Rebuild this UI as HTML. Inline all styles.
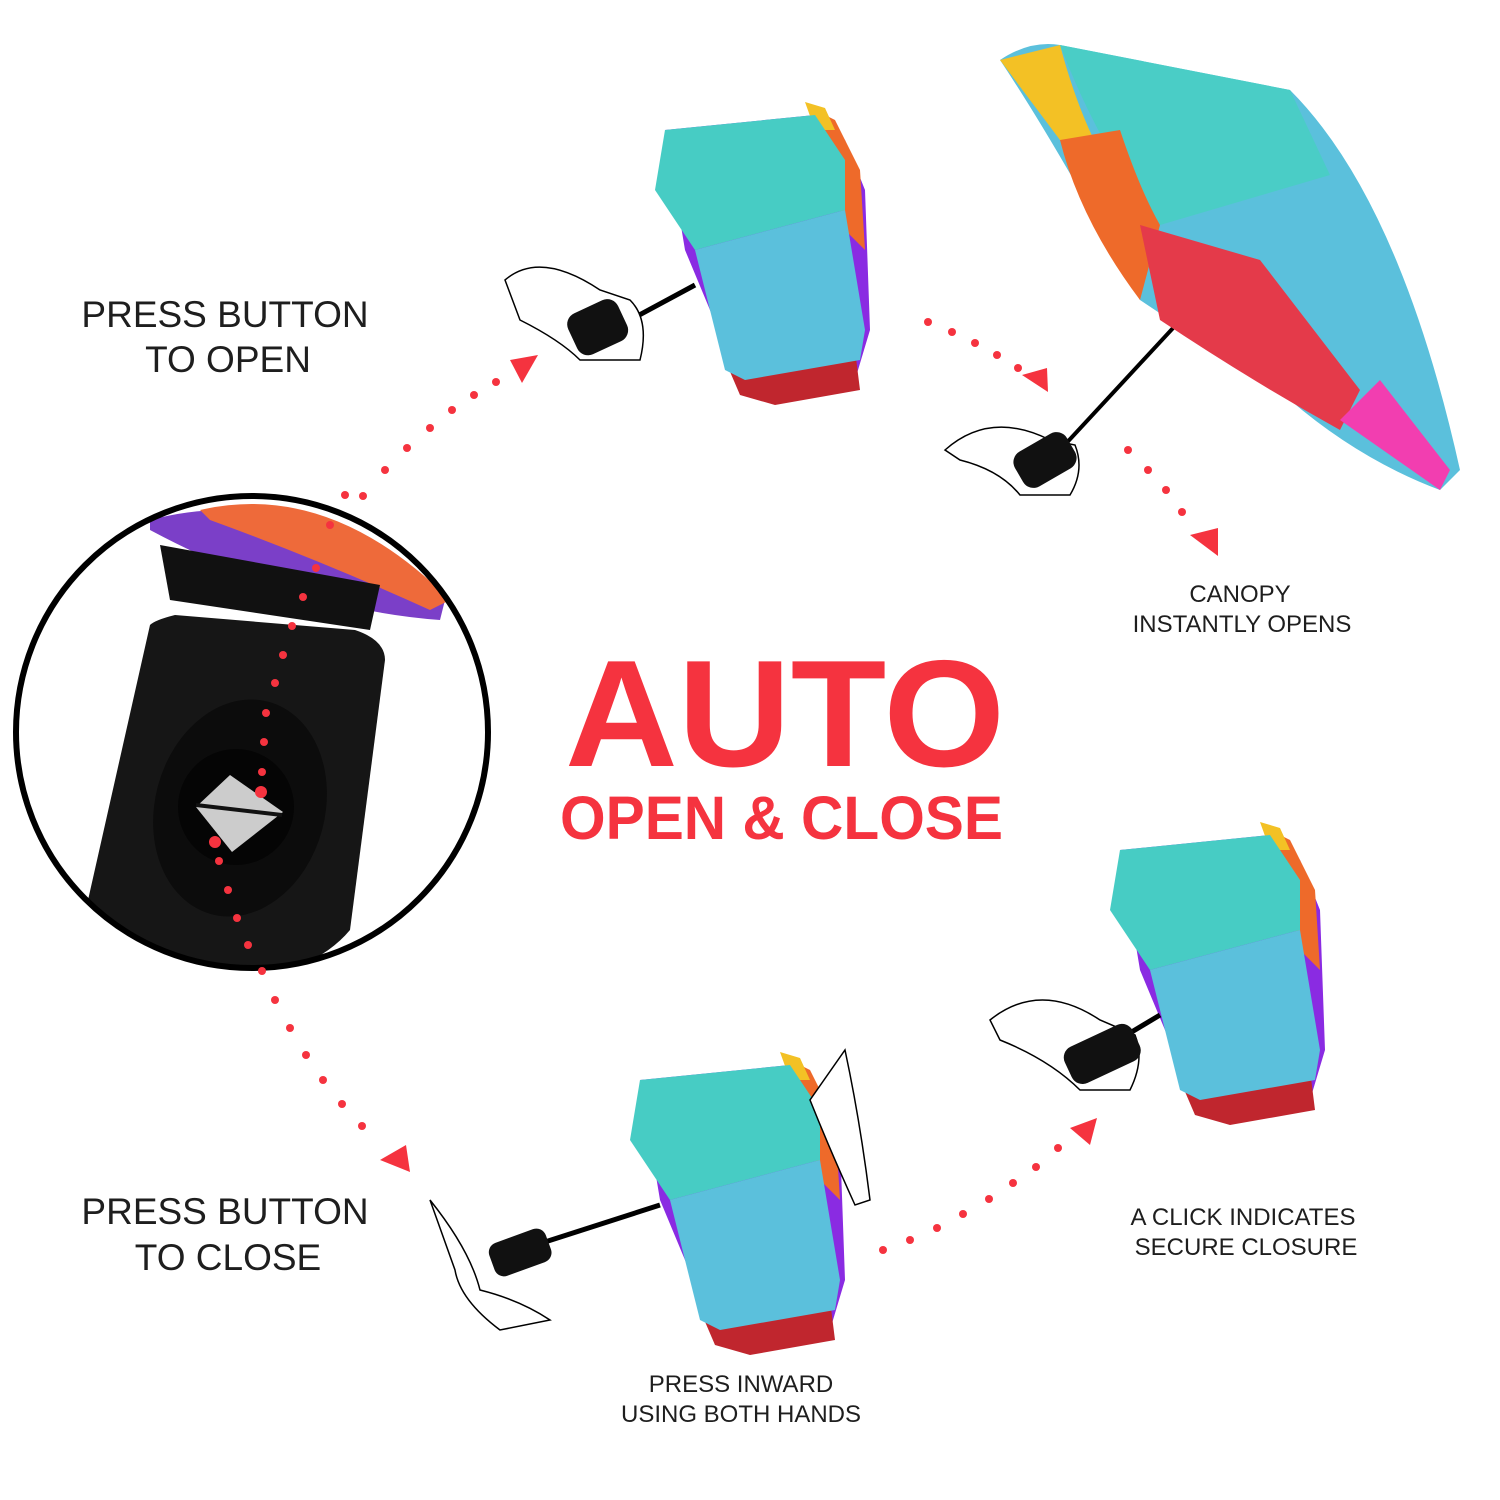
<!DOCTYPE html>
<html><head><meta charset="utf-8"><style>
html,body{margin:0;padding:0;background:#fff;}
svg{display:block}
.t{font-family:"Liberation Sans",sans-serif;fill:#1e1e1e;text-anchor:middle}
.r{font-family:"Liberation Sans",sans-serif;fill:#f5333f;font-weight:bold;}
</style></head><body>
<svg width="1500" height="1500" viewBox="0 0 1500 1500" xmlns="http://www.w3.org/2000/svg">
<defs>
<clipPath id="cc"><circle cx="252" cy="732" r="234"/></clipPath>
<g id="fold">
  <path d="M0 0 L150 -15 L180 10 L200 60 L205 200 L190 250 L110 270 L95 250 L70 240 L20 120 Z" fill="#8a2be2"/>
  <path d="M60 230 L190 220 L195 260 L110 275 L75 265 Z" fill="#c0262e"/>
  <path d="M150 -20 L170 -10 L195 40 L200 120 L180 100 Z" fill="#ee6a2a"/>
  <path d="M140 -28 L160 -22 L170 0 L150 0Z" fill="#f3c125"/>
  <path d="M-10 60 L0 0 L150 -15 L180 30 L180 80 L30 120 Z" fill="#47ccc4"/>
  <path d="M30 120 L180 80 L200 200 L195 230 L80 250 L60 240 Z" fill="#5bc0dc"/>
</g>
</defs>

<!-- texts -->
<text class="t" x="225" y="327" font-size="37">PRESS BUTTON</text>
<text class="t" x="228" y="372" font-size="37">TO OPEN</text>
<text class="t" x="225" y="1224" font-size="37">PRESS BUTTON</text>
<text class="t" x="228" y="1270" font-size="37">TO CLOSE</text>
<text class="t" x="1240" y="602" font-size="24">CANOPY</text>
<text class="t" x="1242" y="632" font-size="24">INSTANTLY OPENS</text>
<text class="t" x="1243" y="1225" font-size="24">A CLICK INDICATES</text>
<text class="t" x="1246" y="1255" font-size="24">SECURE CLOSURE</text>
<text class="t" x="741" y="1392" font-size="24">PRESS INWARD</text>
<text class="t" x="741" y="1422" font-size="24">USING BOTH HANDS</text>
<text class="r" x="565" y="766" font-size="152" textLength="440" lengthAdjust="spacingAndGlyphs">AUTO</text>
<text class="r" x="560" y="839" font-size="61" textLength="443" lengthAdjust="spacingAndGlyphs">OPEN &amp; CLOSE</text>

<!-- circle -->
<g clip-path="url(#cc)">
  <path d="M150 520 Q300 480 445 600 L440 620 Q300 610 150 530Z" fill="#7b3fc8"/>
  <path d="M200 510 Q330 480 450 600 L430 610 Q320 560 210 520Z" fill="#ee6a3a"/>
  <path d="M160 545 L380 585 L370 630 L170 600 Z" fill="#111"/>
  <path d="M150 625 Q155 620 175 615 L355 630 Q385 640 385 660 L350 930 Q300 990 150 990 L70 980 Z" fill="#161616"/>
  <ellipse cx="240" cy="808" rx="85" ry="110" fill="#0c0c0c" transform="rotate(15 240 808)"/>
  <circle cx="236" cy="807" r="58" fill="#050505"/>
  <path d="M196 807 L230 775 L283 812 L232 852 Z" fill="#ccc"/>
  <line x1="196" y1="805" x2="282" y2="815" stroke="#111" stroke-width="4"/>
</g>
<circle cx="252" cy="732" r="236" fill="none" stroke="#000" stroke-width="6"/>

<!-- folded umbrellas -->
<use href="#fold" transform="translate(665,130)"/>
<use href="#fold" transform="translate(1120,850)"/>
<use href="#fold" transform="translate(640,1080)"/>
<!-- handles & hands -->
<g stroke="#000" stroke-width="2" fill="none">
  <line x1="630" y1="320" x2="695" y2="285" stroke-width="5"/>
  <path d="M505 280 Q540 250 600 290 L630 300 Q650 320 640 360 L580 360 Q560 340 520 320Z" fill="#fff" stroke-width="1.5"/>
  <line x1="1060" y1="450" x2="1250" y2="245" stroke-width="4"/>
  <path d="M945 450 Q990 410 1050 440 L1075 445 Q1085 470 1070 495 L1020 495 Q1000 470 960 460Z" fill="#fff" stroke-width="1.5"/>
  <line x1="1110" y1="1045" x2="1160" y2="1015" stroke-width="5"/>
  <path d="M990 1020 Q1040 980 1100 1020 L1135 1035 Q1145 1060 1130 1090 L1080 1090 Q1050 1060 1000 1040Z" fill="#fff" stroke-width="1.5"/>
  <line x1="520" y1="1250" x2="660" y2="1205" stroke-width="5"/>
  <path d="M430 1200 Q470 1250 480 1290 Q520 1300 550 1320 L500 1330 Q460 1300 455 1270Z" fill="#fff" stroke-width="1.5"/>
  <path d="M845 1050 Q860 1120 870 1200 L855 1205 Q830 1150 810 1100Z" fill="#fff" stroke-width="1.5"/>
</g>
<rect x="570" y="305" width="55" height="45" rx="12" fill="#111" transform="rotate(-25 597 327)"/>
<rect x="1015" y="440" width="60" height="40" rx="12" fill="#111" transform="rotate(-30 1045 460)"/>
<rect x="1065" y="1035" width="75" height="40" rx="12" fill="#111" transform="rotate(-25 1100 1055)"/>
<rect x="490" y="1235" width="60" height="35" rx="10" fill="#111" transform="rotate(-20 520 1252)"/>

<!-- open umbrella -->
<path d="M1000 60 Q1030 40 1060 45 L1290 90 Q1400 200 1460 470 L1440 490 Q1360 460 1290 400 Q1200 340 1140 300 Q1060 150 1000 60Z" fill="#5bc0dc"/>
<path d="M1060 45 L1290 90 L1330 175 L1160 225 Q1100 150 1060 45Z" fill="#4acdc6"/>
<path d="M1000 60 L1060 45 Q1080 120 1110 170 L1060 140Z" fill="#f3c125"/>
<path d="M1060 140 L1120 130 Q1140 190 1160 225 L1140 300 Q1080 220 1060 140Z" fill="#ee6a2a"/>
<path d="M1140 225 L1260 260 L1360 390 L1340 430 Q1250 380 1160 320Z" fill="#e43a4a"/>
<path d="M1340 420 L1380 380 L1450 470 L1440 490Z" fill="#f23eb0"/>

<!-- dots -->
<g fill="#f5333f">
  <circle cx="363" cy="496" r="4"/><circle cx="385" cy="470" r="4"/><circle cx="407" cy="448" r="4"/><circle cx="430" cy="428" r="4"/><circle cx="452" cy="410" r="4"/><circle cx="474" cy="395" r="4"/><circle cx="496" cy="382" r="4"/>
  <path d="M510 360 L538 355 L522 383Z"/>
  <circle cx="928" cy="322" r="4"/><circle cx="952" cy="332" r="4"/><circle cx="975" cy="343" r="4"/><circle cx="997" cy="355" r="4"/><circle cx="1018" cy="368" r="4"/>
  <path d="M1022 375 L1047 368 L1048 392Z"/>
  <circle cx="1128" cy="450" r="4"/><circle cx="1148" cy="470" r="4"/><circle cx="1166" cy="490" r="4"/><circle cx="1182" cy="512" r="4"/>
  <path d="M1190 535 L1218 528 L1218 556Z"/>
  <circle cx="345" cy="495" r="4"/><circle cx="330" cy="525" r="4"/><circle cx="316" cy="568" r="4"/><circle cx="303" cy="597" r="4"/><circle cx="292" cy="626" r="4"/><circle cx="283" cy="655" r="4"/><circle cx="275" cy="683" r="4"/><circle cx="266" cy="713" r="4"/><circle cx="264" cy="742" r="4"/><circle cx="262" cy="772" r="4"/><circle cx="261" cy="792" r="6"/><circle cx="215" cy="842" r="6"/><circle cx="219" cy="861" r="4"/><circle cx="228" cy="890" r="4"/><circle cx="237" cy="918" r="4"/><circle cx="248" cy="945" r="4"/><circle cx="262" cy="971" r="4"/>
  <circle cx="275" cy="1000" r="4"/><circle cx="290" cy="1028" r="4"/><circle cx="306" cy="1055" r="4"/><circle cx="323" cy="1080" r="4"/><circle cx="342" cy="1104" r="4"/><circle cx="362" cy="1126" r="4"/>
  <path d="M380 1160 L406 1145 L410 1172Z"/>
  <circle cx="883" cy="1250" r="4"/><circle cx="910" cy="1240" r="4"/><circle cx="937" cy="1228" r="4"/><circle cx="963" cy="1214" r="4"/><circle cx="989" cy="1199" r="4"/><circle cx="1013" cy="1183" r="4"/><circle cx="1036" cy="1167" r="4"/><circle cx="1058" cy="1148" r="4"/>
  <path d="M1070 1128 L1097 1118 L1090 1145Z"/>
</g>
</svg>
</body></html>
